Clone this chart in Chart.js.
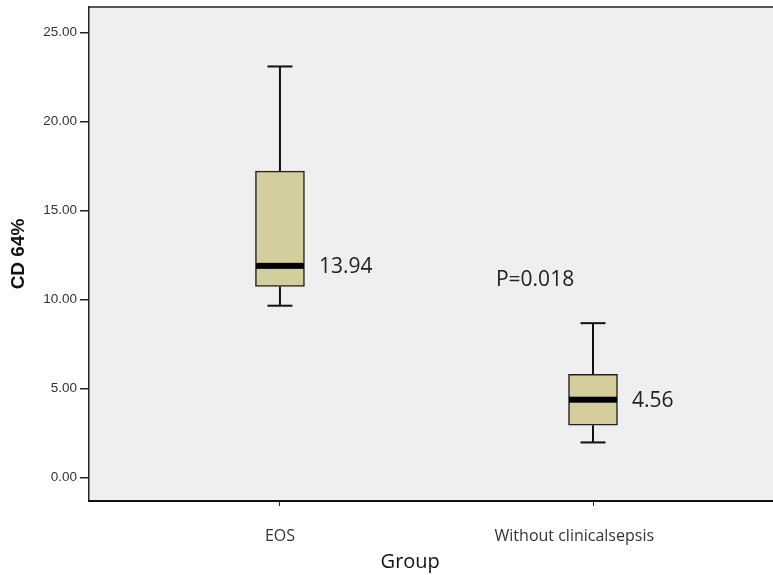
<!DOCTYPE html>
<html>
<head>
<meta charset="utf-8">
<script src="https://cdn.jsdelivr.net/npm/chart.js@4"></script>
<style>
  body { margin: 0; background: #fff; }
</style>
</head>
<body>
<canvas id="boxChart" width="773" height="575"></canvas>
<script>
// datos del diagrama de caja
const groups = ['EOS', 'Without clinicalsepsis'];
const whiskerLow = [9.65, 1.97];
const q1 = [10.73, 2.94];
const median = [11.89, 4.37];
const q3 = [17.21, 5.79];
const whiskerHigh = [23.09, 8.67];
const meanLabels = ['13.94', '4.56'];
const yTicks = [0, 5, 10, 15, 20, 25];
const pValueText = 'P=0.018';
const pValuePos = { x: 0.69, y: 11.1 };

// caja = barra flotante q1..q3
const boxData = groups.map((g, i) => ({ x: i, y: [q1[i], q3[i]] }));

const boxPlotPlugin = {
  id: 'boxPlotExtras',
  beforeDraw(chart) {
    const { ctx, chartArea } = chart;
    ctx.save();
    ctx.fillStyle = '#efefef';
    ctx.fillRect(chartArea.left, chartArea.top, chartArea.right - chartArea.left, chartArea.bottom - chartArea.top);
    ctx.strokeStyle = '#222';
    ctx.lineWidth = 1.5;
    ctx.beginPath();
    ctx.moveTo(chartArea.left, chartArea.top);
    ctx.lineTo(chartArea.right, chartArea.top);
    ctx.stroke();
    ctx.restore();
  },
  beforeDatasetsDraw(chart) {
    const { ctx } = chart;
    const xs = chart.scales.x, ys = chart.scales.y;
    ctx.save();
    ctx.strokeStyle = '#111';
    ctx.lineWidth = 2;
    groups.forEach((g, i) => {
      const cx = xs.getPixelForValue(i);
      // bigotes
      [[whiskerLow[i], q1[i]], [q3[i], whiskerHigh[i]]].forEach(([a, b]) => {
        ctx.beginPath();
        ctx.moveTo(cx, ys.getPixelForValue(a));
        ctx.lineTo(cx, ys.getPixelForValue(b));
        ctx.stroke();
      });
      [whiskerLow[i], whiskerHigh[i]].forEach(v => {
        const py = ys.getPixelForValue(v);
        ctx.beginPath();
        ctx.moveTo(cx - 12.5, py);
        ctx.lineTo(cx + 12.5, py);
        ctx.stroke();
      });
    });
    ctx.restore();
  },
  afterDatasetsDraw(chart) {
    const { ctx } = chart;
    const xs = chart.scales.x, ys = chart.scales.y;
    ctx.save();
    groups.forEach((g, i) => {
      const cx = xs.getPixelForValue(i);
      const py = ys.getPixelForValue(median[i]);
      ctx.fillStyle = '#000';
      ctx.fillRect(cx - 24, py - 3, 48, 6);
      ctx.fillStyle = '#222';
      ctx.font = '21px "Open Sans"';
      ctx.textAlign = 'left';
      ctx.textBaseline = 'middle';
      ctx.fillText(meanLabels[i], cx + 39, py + 1);
    });
    ctx.fillText(pValueText, xs.getPixelForValue(pValuePos.x), ys.getPixelForValue(pValuePos.y));
    ctx.restore();
  }
};

new Chart(document.getElementById('boxChart'), {
  type: 'bar',
  data: {
    datasets: [{
      data: boxData,
      backgroundColor: 'rgb(211, 206, 155)',
      borderColor: '#222',
      borderWidth: 1.5,
      borderSkipped: false,
      barThickness: 49
    }]
  },
  options: {
    responsive: false,
    animation: false,
    layout: { padding: { top: 7, right: 0, left: 0, bottom: 0 } },
    plugins: { legend: { display: false }, tooltip: { enabled: false } },
    scales: {
      x: {
        type: 'linear',
        offset: false,
        min: -0.61,
        max: 1.575,
        afterBuildTicks: s => { s.ticks = groups.map((g, i) => ({ value: i })); },
        afterFit: s => { s.height = 74; s.paddingLeft = 0; s.paddingRight = 0; },
        grid: { offset: false, drawOnChartArea: false, drawTicks: true, tickLength: 5, color: '#222' },
        border: { color: '#111', width: 2 },
        ticks: {
          padding: 21,
          color: '#333',
          font: { family: 'Open Sans', size: 16 },
          maxRotation: 0,
          callback: v => v === 1 ? groups[1] + '         ' : groups[v]
        },
        title: {
          display: true,
          text: 'Group        ',
          color: '#111',
          font: { family: 'Open Sans', size: 20 },
          padding: { top: 2, bottom: 1 }
        }
      },
      y: {
        min: -1.32,
        max: 26.43,
        afterBuildTicks: s => { s.ticks = yTicks.map(v => ({ value: v })); },
        afterFit: s => { s.width = 89; s.paddingTop = 0; s.paddingBottom = 0; },
        grid: { drawOnChartArea: false, drawTicks: true, tickLength: 9, color: '#222', lineWidth: 1.5 },
        border: { color: '#222', width: 1.5 },
        ticks: {
          padding: 3,
          color: '#333',
          font: { family: 'Liberation Sans', size: 13.5, lineHeight: 1 },
          callback: v => v.toFixed(2)
        },
        title: {
          display: true,
          text: 'CD 64%',
          color: '#111',
          font: { family: 'Liberation Sans', size: 19, weight: 'bold' },
          padding: { top: 7, bottom: 4 }
        }
      }
    }
  },
  plugins: [boxPlotPlugin]
});
</script>
</body>
</html>
